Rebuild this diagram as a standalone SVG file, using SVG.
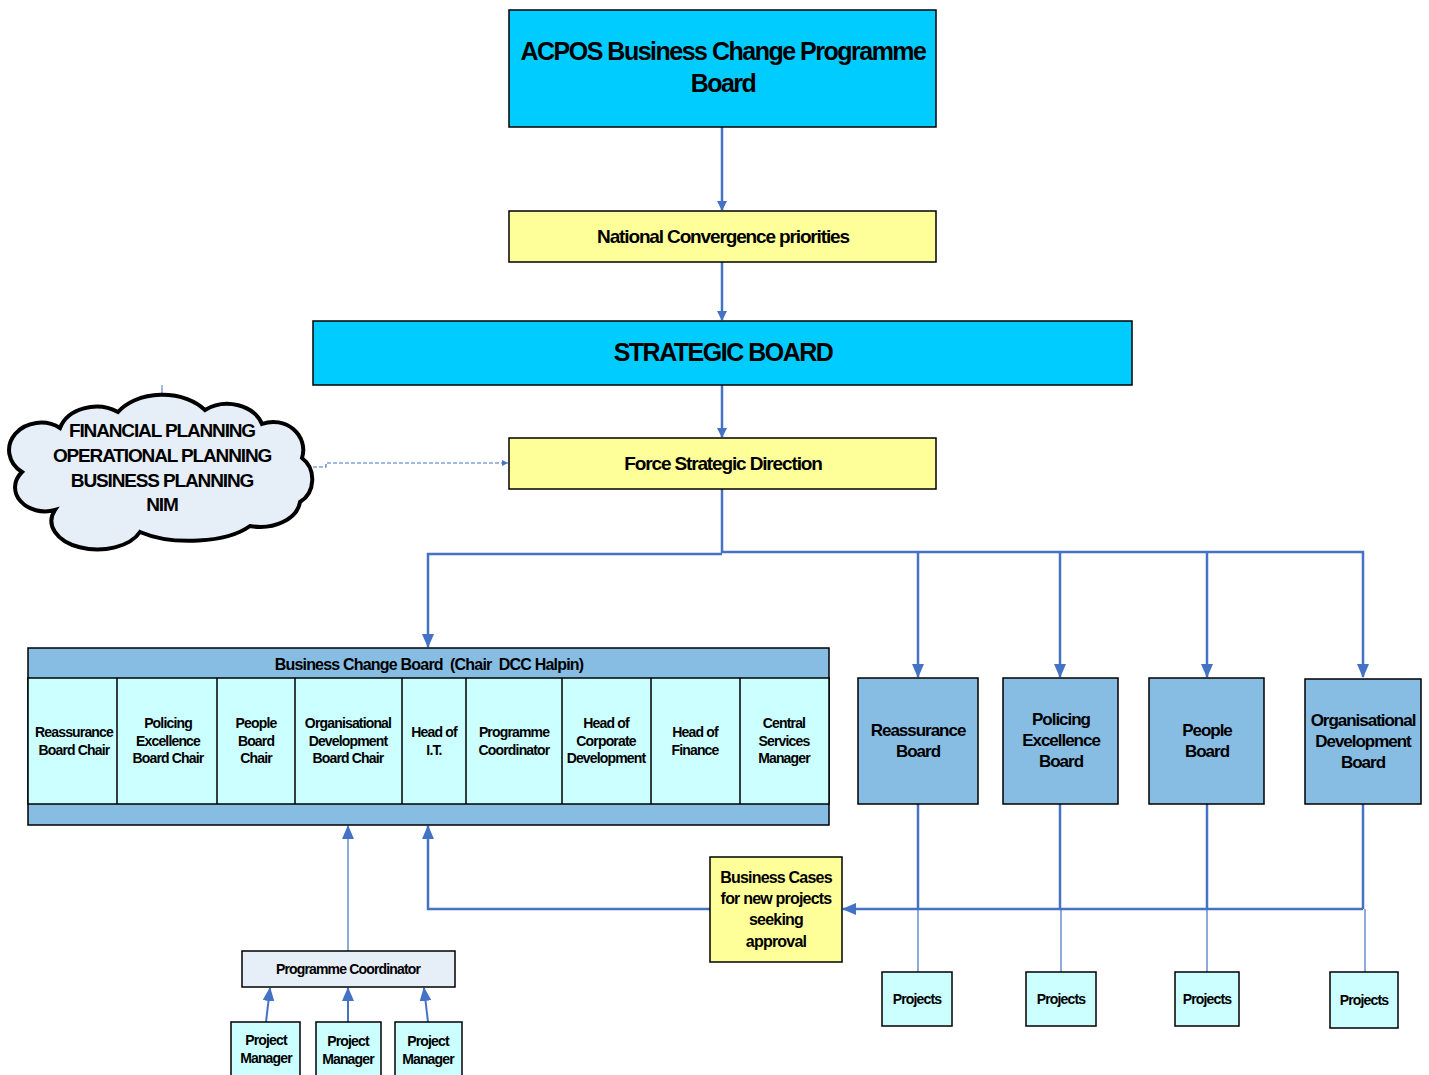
<svg xmlns="http://www.w3.org/2000/svg" width="1429" height="1075" viewBox="0 0 1429 1075">
<defs>
<style>
text{font-family:"Liberation Sans",Arial,sans-serif;font-weight:bold;fill:#000;text-anchor:middle;letter-spacing:-0.06em}
.box{stroke:#000;stroke-width:1.5}
.cyan{fill:#00CCFF}
.yel{fill:#FFFF99}
.lb{fill:#87BDE3}
.pc{fill:#CCFFFF}
.gr{fill:#E6EEF8}
.c{fill:none;stroke:#4472C4;stroke-width:2.5}
.t{fill:none;stroke:#4472C4;stroke-width:1.2}
.f14{font-size:14px}
.f16{font-size:16px;letter-spacing:-0.05em}
.f17{font-size:17px}
.f19{font-size:19px}
.f26{font-size:25px}
</style>
<marker id="ah" markerWidth="10" markerHeight="10" refX="9" refY="5" orient="auto" markerUnits="userSpaceOnUse">
<path d="M0,0 L10,5 L0,10 Z" fill="#4472C4"/>
</marker>
<marker id="ahs" markerWidth="14" markerHeight="12" refX="13" refY="6" orient="auto" markerUnits="userSpaceOnUse">
<path d="M0,0 L14,6 L0,12 Z" fill="#4472C4"/>
</marker>
<marker id="ahd" markerWidth="6" markerHeight="6" refX="6" refY="3" orient="auto" markerUnits="userSpaceOnUse">
<path d="M0,0 L6,3 L0,6 Z" fill="#4472C4"/>
</marker>
</defs>
<rect width="1429" height="1075" fill="#fff"/>

<g id="connectors">
<path class="c" d="M722,127 V210" marker-end="url(#ah)"/>
<path class="c" d="M722,262 V320" marker-end="url(#ah)"/>
<path class="c" d="M722,385 V437" marker-end="url(#ah)"/>
<path d="M162,385 V398" fill="none" stroke="#4472C4" stroke-width="1"/>
<path d="M313,467 H326 V463 H508" fill="none" stroke="#4472C4" stroke-width="1.2" stroke-dasharray="4,2" marker-end="url(#ahd)"/>
<path class="c" d="M722,489 V553"/>
<path class="c" d="M722,554 H428 V647" marker-end="url(#ahs)"/>
<path class="c" d="M722,552 H1363 V677" marker-end="url(#ahs)"/>
<path class="c" d="M918,552 V677" marker-end="url(#ahs)"/>
<path class="c" d="M1060,552 V677" marker-end="url(#ahs)"/>
<path class="c" d="M1207,552 V677" marker-end="url(#ahs)"/>
<path class="c" d="M918,804 V909"/>
<path class="c" d="M1060,804 V909"/>
<path class="c" d="M1207,804 V909"/>
<path class="c" d="M1363,804 V909"/>
<path class="t" d="M918,909 V972"/>
<path class="t" d="M1061,909 V972"/>
<path class="t" d="M1207,909 V972"/>
<path class="t" d="M1365,909 V972"/>
<path class="c" d="M1363,909 H843" marker-end="url(#ahs)"/>
<path class="c" d="M710,909 H428 V826" marker-end="url(#ahs)"/>
<path class="t" d="M348,951 V826" marker-end="url(#ahs)"/>
<path class="c" d="M266,1022 L270,988" marker-end="url(#ahs)" style="stroke-width:2"/>
<path class="c" d="M348,1022 V988" marker-end="url(#ahs)" style="stroke-width:2"/>
<path class="c" d="M428,1022 L424,988" marker-end="url(#ahs)" style="stroke-width:2"/>
</g>

<g id="acpos">
<rect class="box cyan" x="509" y="10" width="427" height="117"/>
<text class="f26" x="723" y="60">ACPOS Business Change Programme</text>
<text class="f26" x="723" y="92">Board</text>
</g>

<g id="national">
<rect class="box yel" x="509" y="211" width="427" height="51"/>
<text class="f19" x="723" y="243">National Convergence priorities</text>
</g>

<g id="strategic">
<rect class="box cyan" x="313" y="321" width="819" height="64"/>
<text class="f26" x="723" y="361">STRATEGIC BOARD</text>
</g>

<g id="force">
<rect class="box yel" x="509" y="438" width="427" height="51"/>
<text class="f19" x="723" y="470">Force Strategic Direction</text>
</g>

<g id="cloud">
<path d="M60,428 A38,30 0 0 1 118,412 A52,36 0 0 1 205,410 A36,28 0 0 1 262,424 A30,28 0 0 1 302,458 A24,26 0 0 1 300,502 A40,28 0 0 1 250,526 A70,30 0 0 1 140,532 A42,26 0 0 1 55,510 A30,24 0 0 1 22,472 A28,24 0 0 1 60,428 Z" fill="#E6EEF8" stroke="#000" stroke-width="4"/>
<text class="f19" x="162" y="437">FINANCIAL PLANNING</text>
<text class="f19" x="162" y="462">OPERATIONAL PLANNING</text>
<text class="f19" x="162" y="487">BUSINESS PLANNING</text>
<text class="f19" x="162" y="511">NIM</text>
</g>

<g id="business-change-board">
<rect class="box lb" x="28" y="648" width="801" height="177"/>
<rect class="box pc" x="28" y="678" width="801" height="126"/>
<path d="M117,678 V804 M217,678 V804 M295,678 V804 M402,678 V804 M466,678 V804 M562,678 V804 M651,678 V804 M740,678 V804" stroke="#000" stroke-width="1.5"/>
<text class="f16" x="429" y="670" style="white-space:pre">Business Change Board  (Chair  DCC Halpin)</text>
<text class="f14" x="74" y="737">Reassurance</text>
<text class="f14" x="74" y="755">Board Chair</text>
<text class="f14" x="168" y="728">Policing</text>
<text class="f14" x="168" y="746">Excellence</text>
<text class="f14" x="168" y="763">Board Chair</text>
<text class="f14" x="256" y="728">People</text>
<text class="f14" x="256" y="746">Board</text>
<text class="f14" x="256" y="763">Chair</text>
<text class="f14" x="348" y="728">Organisational</text>
<text class="f14" x="348" y="746">Development</text>
<text class="f14" x="348" y="763">Board Chair</text>
<text class="f14" x="434" y="737">Head of</text>
<text class="f14" x="434" y="755">I.T.</text>
<text class="f14" x="514" y="737">Programme</text>
<text class="f14" x="514" y="755">Coordinator</text>
<text class="f14" x="606" y="728">Head of</text>
<text class="f14" x="606" y="746">Corporate</text>
<text class="f14" x="606" y="763">Development</text>
<text class="f14" x="695" y="737">Head of</text>
<text class="f14" x="695" y="755">Finance</text>
<text class="f14" x="784" y="728">Central</text>
<text class="f14" x="784" y="746">Services</text>
<text class="f14" x="784" y="763">Manager</text>
</g>

<g id="reassurance-board">
<rect class="box lb" x="858" y="678" width="120" height="126"/>
<text class="f17" x="918" y="736">Reassurance</text>
<text class="f17" x="918" y="757">Board</text>
</g>
<g id="policing-board">
<rect class="box lb" x="1003" y="678" width="115" height="126"/>
<text class="f17" x="1061" y="725">Policing</text>
<text class="f17" x="1061" y="746">Excellence</text>
<text class="f17" x="1061" y="767">Board</text>
</g>
<g id="people-board">
<rect class="box lb" x="1149" y="678" width="115" height="126"/>
<text class="f17" x="1207" y="736">People</text>
<text class="f17" x="1207" y="757">Board</text>
</g>
<g id="orgdev-board">
<rect class="box lb" x="1305" y="679" width="116" height="125"/>
<text class="f17" x="1363" y="726">Organisational</text>
<text class="f17" x="1363" y="747">Development</text>
<text class="f17" x="1363" y="768">Board</text>
</g>

<g id="business-cases">
<rect class="box yel" x="710" y="857" width="132" height="105"/>
<text class="f16" x="776" y="883">Business Cases</text>
<text class="f16" x="776" y="904">for new projects</text>
<text class="f16" x="776" y="925">seeking</text>
<text class="f16" x="776" y="947">approval</text>
</g>

<g id="projects-1"><rect class="box pc" x="882" y="972" width="70" height="54"/><text class="f14" x="917" y="1004">Projects</text></g>
<g id="projects-2"><rect class="box pc" x="1026" y="972" width="70" height="54"/><text class="f14" x="1061" y="1004">Projects</text></g>
<g id="projects-3"><rect class="box pc" x="1175" y="972" width="64" height="54"/><text class="f14" x="1207" y="1004">Projects</text></g>
<g id="projects-4"><rect class="box pc" x="1330" y="972" width="68" height="56"/><text class="f14" x="1364" y="1005">Projects</text></g>

<g id="programme-coordinator">
<rect class="box gr" x="242" y="951" width="213" height="36"/>
<text class="f14" x="348" y="974">Programme Coordinator</text>
</g>

<g id="pm-1"><rect class="box pc" x="231" y="1022" width="69" height="60"/><text class="f14" x="266" y="1045">Project</text><text class="f14" x="266" y="1063">Manager</text></g>
<g id="pm-2"><rect class="box pc" x="316" y="1022" width="65" height="60"/><text class="f14" x="348" y="1046">Project</text><text class="f14" x="348" y="1064">Manager</text></g>
<g id="pm-3"><rect class="box pc" x="395" y="1022" width="67" height="60"/><text class="f14" x="428" y="1046">Project</text><text class="f14" x="428" y="1064">Manager</text></g>
</svg>
